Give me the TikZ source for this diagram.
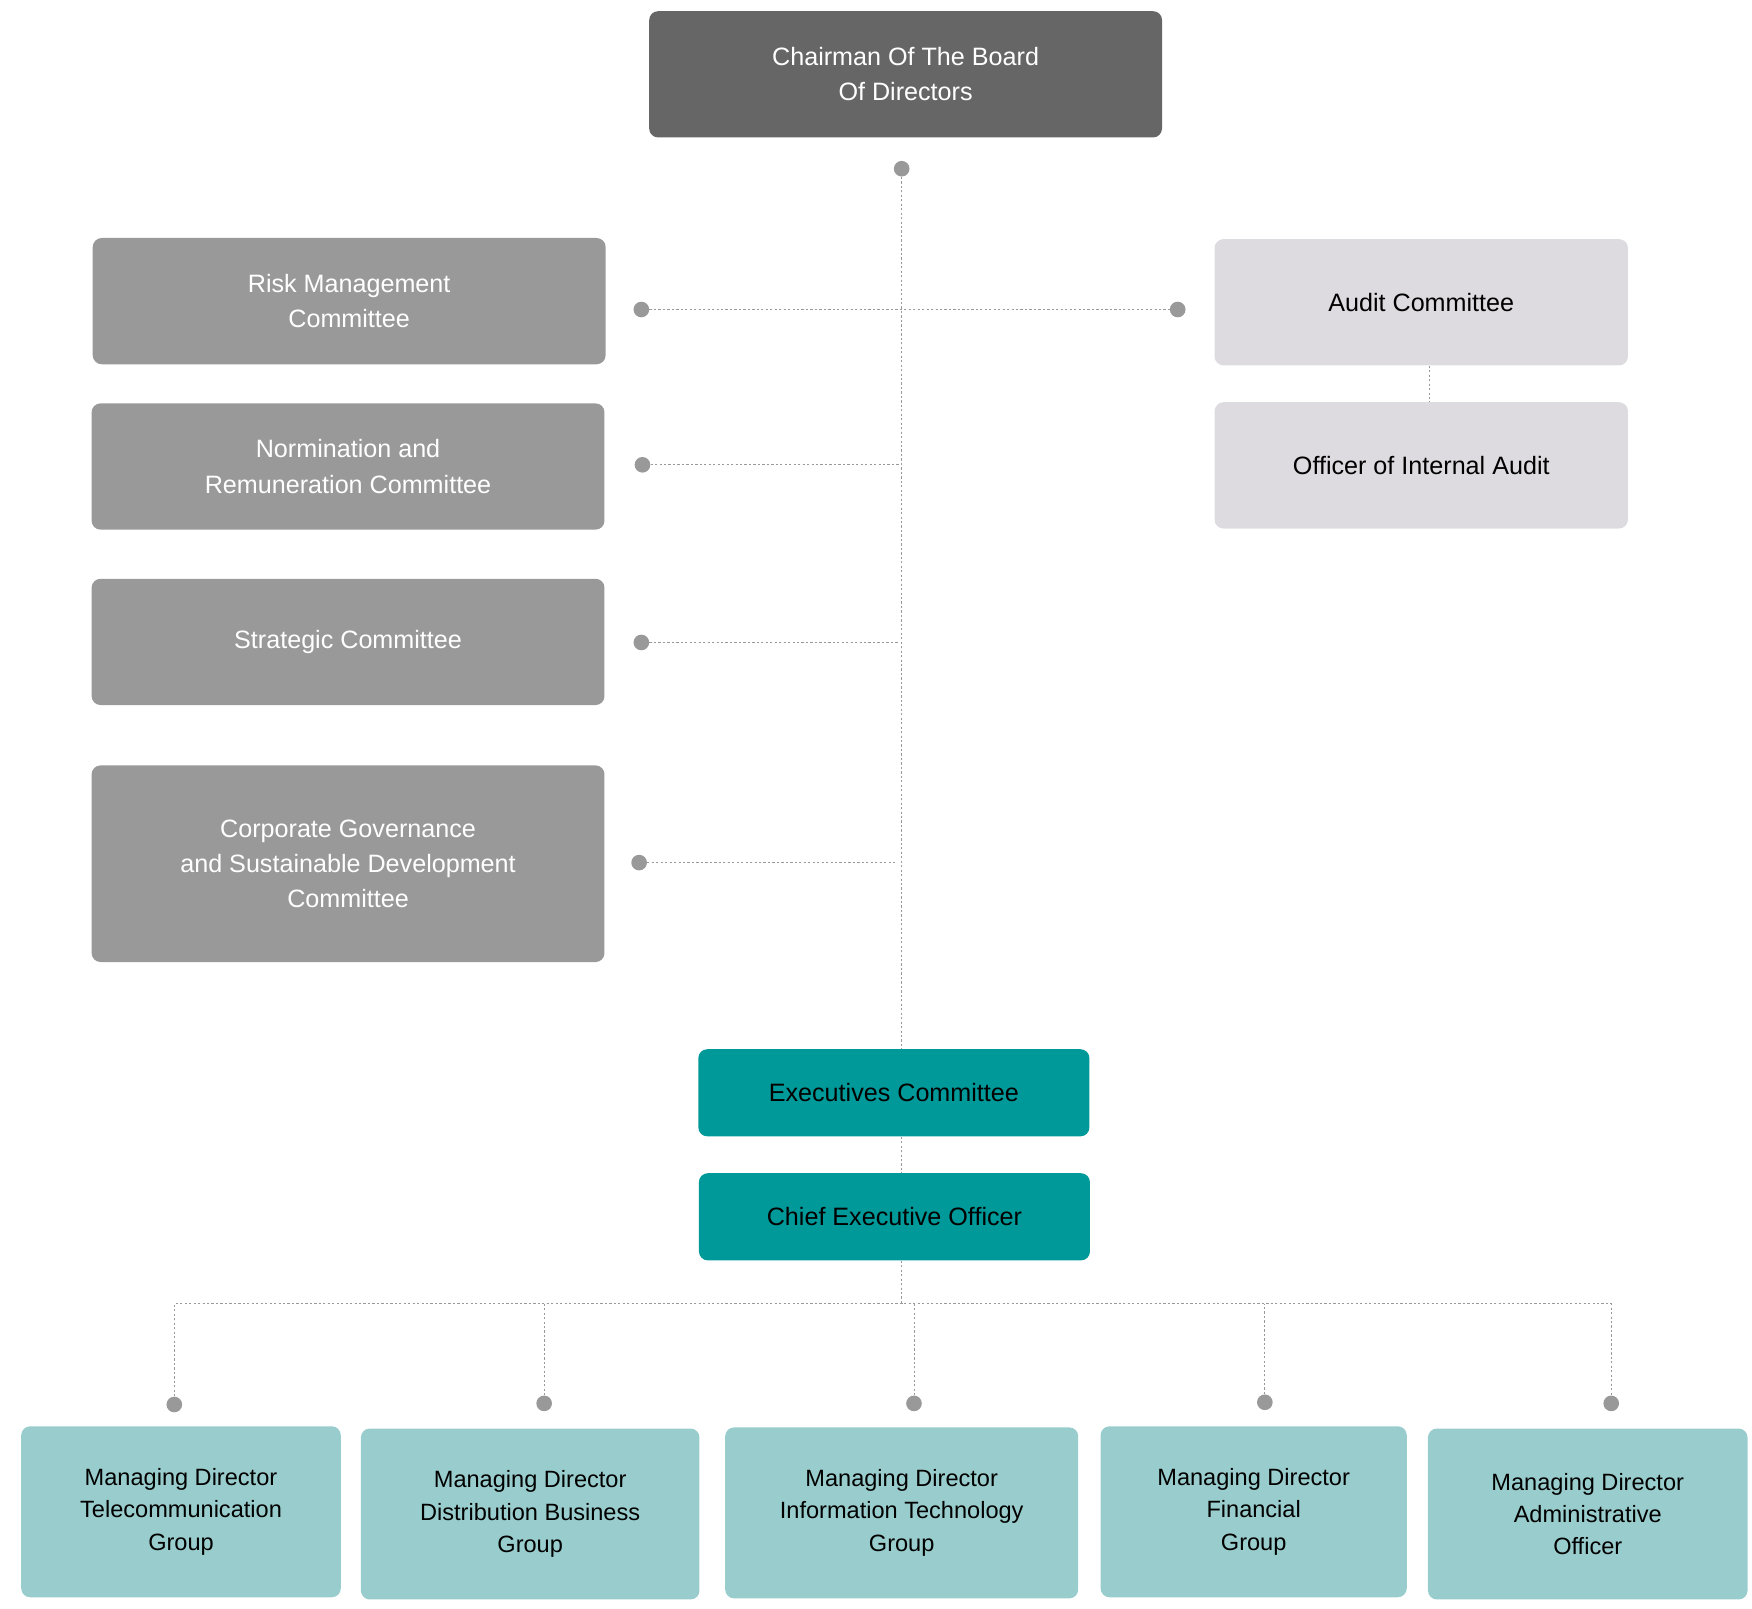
\documentclass[tikz,border=0pt]{standalone}
\usepackage{fontspec}
\setmainfont{Liberation Sans}
\usetikzlibrary{positioning}
\newlength\px
\setlength\px{0.025cm}
\definecolor{chairgray}{HTML}{666666}
\definecolor{commgray}{HTML}{999999}
\definecolor{auditgray}{HTML}{DDDBE0}
\definecolor{execteal}{HTML}{009999}
\definecolor{mdteal}{HTML}{99CCCC}
\begin{document}
\begin{tikzpicture}[
			x=\px, y=-\px,
			box/.style={rectangle, rounded corners=8\px, inner sep=0pt, align=center, text centered, font=\fontsize{16pt}{22.5pt}\selectfont},
			chair/.style={box, fill=chairgray, text=white, minimum width=459\px, minimum height=113\px},
			comm/.style={box, fill=commgray, text=white, minimum width=459\px, minimum height=113\px},
			audit/.style={box, fill=auditgray, minimum width=370\px, minimum height=113\px},
			exec/.style={box, fill=execteal, minimum width=350\px, minimum height=78\px},
			md/.style={box, fill=mdteal, minimum height=153\px, font=\fontsize{15pt}{20.5pt}\selectfont},
			link/.style={draw=commgray, densely dashed, dash pattern=on 2\px off 2\px, line width=0.6pt},
			dot/.style={circle, fill=commgray, inner sep=0pt, minimum size=14\px},
			]
			\useasboundingbox (0,0) rectangle (1568,1440);
			
			\node[chair] (chair) at (810.5,66.5) {Chairman Of The Board\\Of Directors};
			\node[comm] (risk) at (312.5,269.5) {Risk Management\\Committee};
			\node[comm] (norm) at (311.5,417.5) {Normination and\\Remuneration Committee};
			\node[comm] (strat) at (311.5,574.5) {Strategic Committee};
			\node[comm, minimum height=176\px] (corp) at (311.5,773) {Corporate Governance\\and Sustainable Development\\Committee};
			\node[audit] (audit) at (1272,270.5) {Audit Committee};
			\node[audit] (officer) at (1272,416.5) {Officer of Internal Audit};
			\node[exec] (exec) at (800,978) {Executives Committee};
			\node[exec] (ceo) at (800.5,1089) {Chief Executive Officer};
			
			\node[md, minimum width=286\px] (md1) at (162,1353) {Managing Director\\Telecommunication\\Group};
			\node[md, minimum width=303\px] (md2) at (474.5,1355) {Managing Director\\Distribution Business\\Group};
			\node[md, minimum width=316\px] (md3) at (807,1354) {Managing Director\\Information Technology\\Group};
			\node[md, minimum width=274\px] (md4) at (1122,1353) {Managing Director\\Financial\\Group};
			\node[md, minimum width=286\px] (md5) at (1421,1355) {Managing Director\\Administrative\\Officer};
			
			% dots and junctions
			\node[dot] (d0) at (807,151) {};
			\node[dot] (drisk) at (574,277) {};
			\node[dot] (daudit) at (1054,277) {};
			\node[dot] (dnorm) at (575,416) {};
			\node[dot] (dstrat) at (574,575) {};
			\node[dot] (dcorp) at (572,772) {};
			\coordinate (jnorm) at (805,416);
			\coordinate (jstrat) at (805,575);
			\coordinate (jcorp) at (801,772);
			\coordinate (jceo) at (807,1167);
			\foreach \i/\x/\y in {1/156/1257, 2/487/1256, 3/818/1256, 4/1132/1255, 5/1442/1256}
				\node[dot] (dmd\i) at (\x,\y) {};
			
			\draw[link] (d0) -- (d0 |- exec.north);
			\draw[link] (drisk) -- (daudit);
			\draw[link] (dnorm) -- (jnorm);
			\draw[link] (dstrat) -- (jstrat);
			\draw[link] (dcorp) -- (jcorp);
			\draw[link] (audit.south -| 1279,0) -- (officer.north -| 1279,0);
			\draw[link] (exec.south -| d0) -- (ceo.north -| d0);
			\draw[link] (ceo.south -| d0) -- (jceo);
			\draw[link] (dmd1) |- (jceo) -| (dmd5);
			\foreach \i in {2,3,4}
				\draw[link] (dmd\i) -- (dmd\i |- jceo);
			
\end{tikzpicture}
\end{document}
